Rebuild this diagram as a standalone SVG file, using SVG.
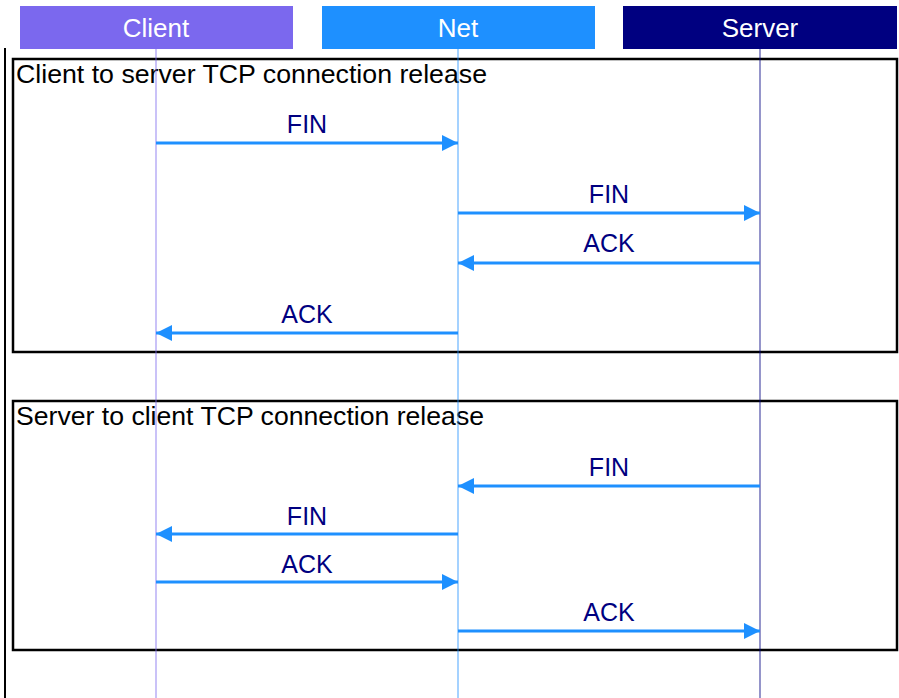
<svg xmlns="http://www.w3.org/2000/svg" width="899" height="698" viewBox="0 0 899 698">
  <style>
    text { font-family: "Liberation Sans", Arial, sans-serif; font-size: 25px; }
    .head { fill: #ffffff; text-anchor: middle; font-size: 26px; }
    .title { fill: #000000; }
    .msg { fill: #000080; text-anchor: middle; }
    .frame { fill: none; stroke: #000000; stroke-width: 2.5; }
    .arrow { stroke: #1e90ff; stroke-width: 3; fill: none; marker-end: url(#head); }
  </style>
  <defs>
    <marker id="head" markerUnits="userSpaceOnUse" markerWidth="18" markerHeight="16" refX="16" refY="8" orient="auto">
      <path d="M0,0 L16,8 L0,16 Z" fill="#1e90ff"/>
    </marker>
  </defs>
  <rect width="899" height="698" fill="#ffffff"/>

  <!-- outer left rule -->
  <line x1="5" y1="48" x2="5" y2="698" stroke="#000000" stroke-width="2"/>

  <!-- fragments -->
  <g id="frame-client-to-server">
    <rect class="frame" x="13" y="59" width="884" height="293"/>
    <text class="title" x="16" y="83" textLength="471" lengthAdjust="spacingAndGlyphs">Client to server TCP connection release</text>
  </g>
  <g id="frame-server-to-client">
    <rect class="frame" x="13" y="401" width="884" height="249"/>
    <text class="title" x="16" y="425" textLength="468" lengthAdjust="spacingAndGlyphs">Server to client TCP connection release</text>
  </g>

  <!-- participants with lifelines -->
  <g id="client">
    <rect x="20" y="6" width="273" height="43" fill="#7b68ee"/>
    <text class="head" x="156" y="37">Client</text>
    <line x1="156" y1="49" x2="156" y2="698" stroke="#7b68ee" stroke-width="1" stroke-opacity="0.8"/>
  </g>
  <g id="net">
    <rect x="322" y="6" width="273" height="43" fill="#1e90ff"/>
    <text class="head" x="458" y="37">Net</text>
    <line x1="458" y1="49" x2="458" y2="698" stroke="#1e90ff" stroke-width="1" stroke-opacity="0.8"/>
  </g>
  <g id="server">
    <rect x="623" y="6" width="274" height="43" fill="#000080"/>
    <text class="head" x="760" y="37">Server</text>
    <line x1="760" y1="49" x2="760" y2="698" stroke="#000080" stroke-width="1.2" stroke-opacity="0.7"/>
  </g>

  <!-- messages -->
  <g id="connectors">
    <line class="arrow" x1="156" y1="143" x2="458" y2="143"/>
    <text class="msg" x="307" y="133">FIN</text>

    <line class="arrow" x1="458" y1="213" x2="760" y2="213"/>
    <text class="msg" x="609" y="203">FIN</text>

    <line class="arrow" x1="760" y1="263" x2="458" y2="263"/>
    <text class="msg" x="609" y="252">ACK</text>

    <line class="arrow" x1="458" y1="333" x2="156" y2="333"/>
    <text class="msg" x="307" y="323">ACK</text>

    <line class="arrow" x1="760" y1="486" x2="458" y2="486"/>
    <text class="msg" x="609" y="476">FIN</text>

    <line class="arrow" x1="458" y1="534" x2="156" y2="534"/>
    <text class="msg" x="307" y="525">FIN</text>

    <line class="arrow" x1="156" y1="582" x2="458" y2="582"/>
    <text class="msg" x="307" y="573">ACK</text>

    <line class="arrow" x1="458" y1="631" x2="760" y2="631"/>
    <text class="msg" x="609" y="621">ACK</text>
  </g>
</svg>
